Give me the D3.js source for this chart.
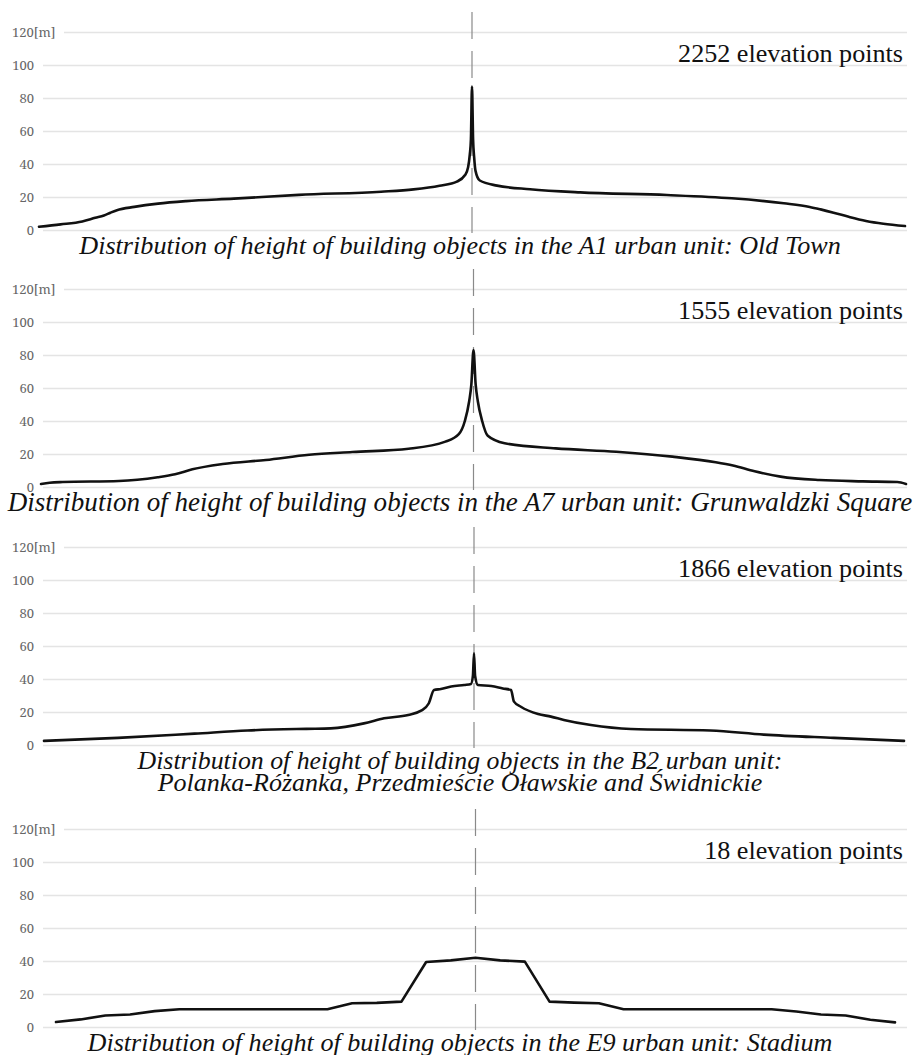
<!DOCTYPE html>
<html>
<head>
<meta charset="utf-8">
<script src="https://cdn.jsdelivr.net/npm/d3@7"></script>
<style>
  body { margin: 0; background: #fff; }
</style>
</head>
<body>
<div id="chart"></div>
<script>
// tick values of every panel
var yTicks = [0, 20, 40, 60, 80, 100, 120];

var pointLabels = ["2252 elevation points", "1555 elevation points", "1866 elevation points", "18 elevation points"];

var unitTitles = [
    ["Distribution of height of building objects in the A1 urban unit: Old Town"],
    ["Distribution of height of building objects in the A7 urban unit: Grunwaldzki Square"],
    ["Distribution of height of building objects in the B2 urban unit:",
     "Polanka-Różanka, Przedmieście Oławskie and Świdnickie"],
    ["Distribution of height of building objects in the E9 urban unit: Stadium"]
];

// A1 Old Town - position along profile (-100..100, 0 = centre) and height [m]
var a1Pos =    [-100, -95, -90, -87, -85, -83.5, -82, -78, -72.5, -66, -55, -40, -21, -13.5, -7.5, -3.5, -1.6, -0.9, -0.5, -0.25, 0, 0.25, 0.5, 0.8, 1.8, 5.8, 13.4, 25, 45, 60, 72, 78, 80.5, 83.5, 87, 91, 95, 100];
var a1Height = [2, 3.4, 5.2, 7.4, 8.8, 10.5, 12, 14, 16, 17.5, 19, 21.3, 23.2, 24.6, 26.8, 29.3, 33.3, 38, 46, 55, 87, 55, 44, 36, 30, 26.9, 24.7, 22.8, 21.2, 19.2, 16.2, 14, 12.5, 10.5, 8, 5.5, 3.8, 2.4];

// A7 Grunwaldzki Square
var a7Pos =    [-100, -98, -95, -82, -73, -69, -65, -58, -48, -38, -28, -15, -6.5, -3.4, -2, -1, -0.5, 0, 0.5, 1, 2, 3.3, 7.2, 19, 33, 46, 56, 60, 65, 71, 80, 90, 98, 100];
var a7Height = [1.8, 2.6, 3, 3.6, 5.9, 7.7, 10.7, 13.9, 16.4, 19.5, 21.2, 23.2, 27.5, 32, 40, 52, 62, 83, 62, 52, 40, 31, 26.5, 23.4, 21.4, 18.4, 15, 13, 9.5, 6.3, 4.2, 3.4, 3, 1.8];

// B2 Polanka-Różanka, Przedmieście Oławskie and Świdnickie
var b2Pos =    [-100, -82.8, -65, -52.7, -39, -33.3, -25.6, -20.9, -15.3, -12.3, -10.5, -9.3, -7.7, -5.3, -2.3, -0.7, -0.25, 0, 0.25, 0.9, 4, 6.7, 8.6, 9.3, 10.9, 14.9, 17.9, 20.9, 27.2, 36.5, 55, 67.4, 83.7, 100];
var b2Height = [2.5, 4.3, 6.9, 8.8, 9.8, 10.1, 13.1, 16.2, 18.2, 20.8, 25.3, 33.3, 33.9, 35.4, 36.4, 37, 42, 55.6, 42, 36.4, 35.8, 34.3, 33.3, 26.3, 23.2, 18.8, 17.2, 15.2, 12.1, 9.7, 8.8, 6.3, 4.3, 2.5];

// E9 Stadium - heights at successive profile points
var e9Height = [3, 4.6, 7, 7.6, 9.6, 10.8, 10.8, 10.8, 10.8, 10.8, 10.8, 10.8, 14.4, 14.6, 15.4, 39.4, 40.4, 42,
                40.4, 39.6, 15.4, 14.8, 14.4, 10.8, 10.8, 10.8, 10.8, 10.8, 10.8, 10.8, 9.4, 7.6, 7, 4.4, 2.8];
var e9Pos = e9Height.map(function(d, i) { return i; });

var width = 919, height = 1055;
var gridLeft = 43, gridRight = 907;
var serif = "'Liberation Serif', 'Times New Roman', serif";

var svg = d3.select("#chart").append("svg")
    .attr("width", width)
    .attr("height", height);

// caption widths are taken from the reference, so the font size follows from them
var panels = [
    {pos: a1Pos, h: a1Height, centre: 0,  base: 230,  x0: 39, x1: 905, curve: d3.curveMonotoneX, capW: [762]},
    {pos: a7Pos, h: a7Height, centre: 0,  base: 487,  x0: 41, x1: 906, curve: d3.curveMonotoneX, capW: [905]},
    {pos: b2Pos, h: b2Height, centre: 0,  base: 745,  x0: 44, x1: 904, curve: d3.curveMonotoneX, capW: [645, 605]},
    {pos: e9Pos, h: e9Height, centre: 17, base: 1027, x0: 56, x1: 895, curve: d3.curveLinear, capW: [745]}
];

//Scale a text's font so that it spans the wanted width
function fitText(sel, target) {
    var w = sel.node().getComputedTextLength();
    var fs = parseFloat(sel.style("font-size"));
    sel.style("font-size", (fs * target / w) + "px");
}

var labelSize = null;

panels.forEach(function(p, k) {
    var y = d3.scaleLinear().domain([0, 120]).range([p.base, p.base - 198]);
    var x = d3.scaleLinear().domain(d3.extent(p.pos)).range([p.x0, p.x1]);

    var g = svg.append("g").attr("class", "panel");

    //Gridlines + tick labels
    var axis = g.append("g")
        .attr("class", "y axis")
        .attr("transform", "translate(" + gridLeft + ",0)")
        .call(d3.axisLeft(y)
            .tickValues(yTicks)
            .tickSize(-(gridRight - gridLeft))
            .tickPadding(9)
            .tickFormat(function(d) { return d === 120 ? "120[m]" : d; }));

    axis.select(".domain").remove();
    axis.selectAll("line")
        .style("stroke", "#e4e4e4")
        .style("stroke-width", 1.6);
    axis.selectAll("text")
        .style("font-family", "'Noto Serif', serif")
        .style("font-size", "13px")
        .style("fill", "#666");

    //the top label sits left aligned, its gridline starts after it
    var top = axis.selectAll(".tick").filter(function(d) { return d === 120; });
    top.select("text").attr("text-anchor", "start").attr("x", -31);
    top.select("line").attr("x1", 21);

    //Dashed centre line
    g.append("line")
        .attr("x1", x(p.centre)).attr("x2", x(p.centre))
        .attr("y1", y(120) - 20).attr("y2", y(0) + 3)
        .style("stroke", "#8a8a8a")
        .style("stroke-width", 1.2)
        .style("stroke-dasharray", "27,12");

    //Height profile
    var line = d3.line()
        .x(function(d, i) { return x(p.pos[i]); })
        .y(function(d) { return y(d); })
        .curve(p.curve);

    g.append("path")
        .datum(p.h)
        .attr("d", line)
        .style("fill", "none")
        .style("stroke", "#111")
        .style("stroke-width", 2.6)
        .style("stroke-linejoin", "round")
        .style("stroke-linecap", "round");

    //Number of elevation points
    var count = g.append("text")
        .attr("x", 903)
        .attr("y", y(100) - 3)
        .attr("text-anchor", "end")
        .style("font-family", serif)
        .style("font-size", "25px")
        .style("fill", "#111")
        .text(pointLabels[k]);
    if (labelSize === null) {
        fitText(count, 225);
        labelSize = count.style("font-size");
    } else {
        count.style("font-size", labelSize);
    }

    //Caption below the panel, one text per line
    unitTitles[k].forEach(function(t, i) {
        var cap = g.append("text")
            .attr("x", 460)
            .attr("y", p.base + 24 + i * 22)
            .attr("text-anchor", "middle")
            .style("font-family", serif)
            .style("font-style", "italic")
            .style("font-size", "25px")
            .style("fill", "#111")
            .text(t);
        fitText(cap, p.capW[i]);
    });
});
</script>
</body>
</html>
